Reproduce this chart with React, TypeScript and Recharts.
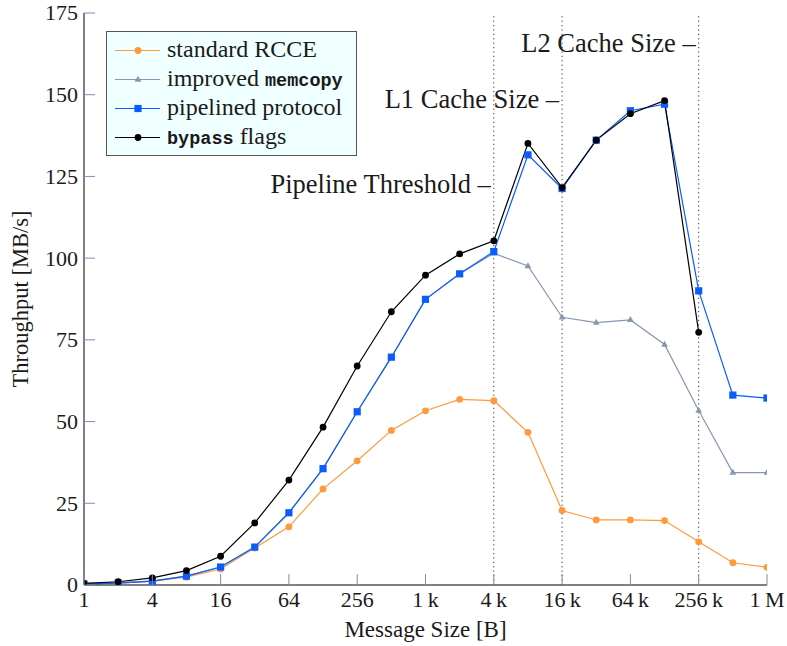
import React from 'react';
import { LineChart, Line, XAxis, YAxis, ReferenceLine, ReferenceDot, Legend } from 'recharts';

// message sizes in bytes (x axis, log2 spaced)
const messageSizes = [
  1, 2, 4, 8, 16, 32, 64, 128, 256, 512, 1024, 2048, 4096, 8192, 16384, 32768, 65536, 131072,
  262144, 524288, 1048576,
];

// throughput in MB/s
const standardRcce = [
  0.5, 0.7, 1.2, 2.4, 4.9, 11.3, 17.8, 29.4, 38.0, 47.3, 53.3, 56.8, 56.4, 46.7, 22.8, 19.9, 19.9,
  19.7, 13.2, 6.8, 5.4,
];
const improvedMemcopy = [
  0.3, 0.6, 1.2, 2.7, 5.5, 11.6, 22.1, 35.6, 53.0, 69.7, 87.4, 95.2, 101.5, 97.6, 81.9, 80.3, 81.1,
  73.6, 53.4, 34.4, 34.4,
];
const pipelinedProtocol = [
  0.3, 0.6, 1.2, 2.7, 5.5, 11.6, 22.1, 35.6, 53.0, 69.7, 87.4, 95.2, 102.0, 131.6, 121.3, 136.1,
  145.1, 147.1, 90.0, 58.1, 57.2,
];
const bypassFlags = [
  0.5, 1.0, 2.2, 4.4, 8.8, 19.0, 32.1, 48.3, 67.0, 83.6, 94.8, 101.3, 105.3, 135.1, 121.6, 136.1,
  144.2, 148.2, 77.3, null, null,
];

const xTicks = [1, 4, 16, 64, 256, 1024, 4096, 16384, 65536, 262144, 1048576];
const xTickLabels = ['1', '4', '16', '64', '256', '1\u2009k', '4\u2009k', '16\u2009k', '64\u2009k', '256\u2009k', '1\u2009M'];
const yTicks = [0, 25, 50, 75, 100, 125, 150, 175];

// vertical markers and their labels
const markerSizes = [4096, 16384, 262144];
const markerLabels = ['Pipeline Threshold \u2013', 'L1 Cache Size \u2013', 'L2 Cache Size \u2013'];
const markerLabelY = [122.8, 148.7, 165.9];

const data = messageSizes.map((size, i) => ({
  size,
  rcce: standardRcce[i],
  memcopy: improvedMemcopy[i],
  pipelined: pipelinedProtocol[i],
  bypass: bypassFlags[i],
}));

const SERIF = '"Liberation Serif", "Times New Roman", serif';
const MONO = '"Liberation Mono", "DejaVu Sans Mono", monospace';
const TICK_COLOR = '#7b8fb5';
const TEXT_COLOR = '#1a1a1a';

const ORANGE = '#ff9a3c';
const GRAY = '#8797b0';
const BLUE = '#0a5cff';
const BLACK = '#000000';

const CircleDot = (props: any) => {
  const { cx, cy, fill, value } = props;
  if (value === null || value === undefined || isNaN(cy)) return null;
  return <circle cx={cx} cy={cy} r={3.4} fill={fill} />;
};

const SquareDot = (props: any) => {
  const { cx, cy, fill, value } = props;
  if (value === null || value === undefined || isNaN(cy)) return null;
  return <rect x={cx - 3.6} y={cy - 3.6} width={7.2} height={7.2} fill={fill} />;
};

const TriangleDot = (props: any) => {
  const { cx, cy, fill, value } = props;
  if (value === null || value === undefined || isNaN(cy)) return null;
  return <polygon points={`${cx},${cy - 3.8} ${cx + 3.4},${cy + 2.2} ${cx - 3.4},${cy + 2.2}`} fill={fill} />;
};

const BottomTick = (props: any) => {
  const { x, y, payload } = props;
  const idx = xTicks.indexOf(payload.value);
  return (
    <g>
      <line x1={x} y1={y} x2={x} y2={y - 11} stroke={TICK_COLOR} strokeWidth={1} />
      <text x={x} y={y + 22} textAnchor="middle" fontFamily={SERIF} fontSize={22} fill={TEXT_COLOR}>
        {xTickLabels[idx]}
      </text>
    </g>
  );
};

const TopTick = (props: any) => {
  const { x, y } = props;
  return <line x1={x} y1={y} x2={x} y2={y + 11} stroke={TICK_COLOR} strokeWidth={1} />;
};

const LeftTick = (props: any) => {
  const { x, y, payload } = props;
  return (
    <g>
      <line x1={x} y1={y} x2={x + 11} y2={y} stroke={TICK_COLOR} strokeWidth={1} />
      <text x={x - 6} y={y} dy="0.34em" textAnchor="end" fontFamily={SERIF} fontSize={22} fill={TEXT_COLOR}>
        {payload.value}
      </text>
    </g>
  );
};

const RightTick = (props: any) => {
  const { x, y } = props;
  return <line x1={x} y1={y} x2={x - 11} y2={y} stroke={TICK_COLOR} strokeWidth={1} />;
};

const XTitle = (props: any) => {
  const { viewBox } = props;
  if (!viewBox) return null;
  return (
    <text
      x={viewBox.x + viewBox.width / 2}
      y={viewBox.y + 52}
      textAnchor="middle"
      fontFamily={SERIF}
      fontSize={23}
      fill={TEXT_COLOR}
    >
      Message Size [B]
    </text>
  );
};

const YTitle = (props: any) => {
  const { viewBox } = props;
  if (!viewBox) return null;
  const x = viewBox.x + 28;
  const y = viewBox.y + viewBox.height / 2;
  return (
    <text
      x={x}
      y={y}
      transform={`rotate(-90, ${x}, ${y})`}
      textAnchor="middle"
      fontFamily={SERIF}
      fontSize={22.5}
      fill={TEXT_COLOR}
    >
      Throughput [MB/s]
    </text>
  );
};

const legendItems = [
  { color: ORANGE, shape: 'circle', parts: [{ text: 'standard RCCE', mono: false }] },
  { color: GRAY, shape: 'triangle', parts: [{ text: 'improved ', mono: false }, { text: 'memcopy', mono: true }] },
  { color: BLUE, shape: 'square', parts: [{ text: 'pipelined protocol', mono: false }] },
  { color: BLACK, shape: 'circle', parts: [{ text: 'bypass', mono: true }, { text: ' flags', mono: false }] },
];

const LegendBox = () => (
  <div
    style={{
      width: 249,
      height: 123,
      border: '1px solid #555',
      background: '#f0ffff',
      boxSizing: 'content-box',
      position: 'relative',
    }}
  >
    {legendItems.map((item, i) => (
      <div
        key={i}
        style={{ position: 'absolute', left: 0, top: 4 + i * 29, height: 29, display: 'flex', alignItems: 'center' }}
      >
        <svg width={60} height={29} style={{ display: 'block' }}>
          <line x1={8} y1={14.5} x2={53} y2={14.5} stroke={item.color} strokeWidth={1.2} />
          {item.shape === 'circle' && <circle cx={31} cy={14.5} r={3.4} fill={item.color} />}
          {item.shape === 'square' && <rect x={27.4} y={10.9} width={7.2} height={7.2} fill={item.color} />}
          {item.shape === 'triangle' && (
            <polygon points="31,10.7 34.4,16.7 27.6,16.7" fill={item.color} />
          )}
        </svg>
        <span style={{ whiteSpace: 'pre', color: TEXT_COLOR, lineHeight: '29px' }}>
          {item.parts.map((p, j) => (
            <span
              key={j}
              style={{
                fontFamily: p.mono ? MONO : SERIF,
                fontSize: p.mono ? 18.5 : 24,
                fontWeight: p.mono ? 600 : 400,
              }}
            >
              {p.text}
            </span>
          ))}
        </span>
      </div>
    ))}
  </div>
);

export default function App() {
  return (
    <div style={{ position: 'absolute', left: 0, top: 0, width: 787, height: 646, background: '#fff' }}>
      <LineChart width={787} height={646} data={data} margin={{ top: 13, right: 20, bottom: 0, left: 0 }}>
        <XAxis
          dataKey="size"
          type="number"
          scale="log"
          domain={[1, 1048576]}
          ticks={xTicks}
          interval={0}
          height={61}
          tickSize={0}
          tickMargin={0}
          tickLine={false}
          axisLine={{ stroke: '#000', strokeWidth: 1 }}
          tick={<BottomTick />}
          label={<XTitle />}
          allowDataOverflow
        />
        <XAxis
          xAxisId="top"
          orientation="top"
          dataKey="size"
          type="number"
          scale="log"
          domain={[1, 1048576]}
          ticks={xTicks}
          interval={0}
          height={0}
          tickSize={0}
          tickMargin={0}
          tickLine={false}
          axisLine={{ stroke: '#000', strokeWidth: 1 }}
          tick={<TopTick />}
          allowDataOverflow
        />
        <YAxis
          type="number"
          domain={[0, 175]}
          ticks={yTicks}
          interval={0}
          width={84}
          tickSize={0}
          tickMargin={0}
          tickLine={false}
          axisLine={{ stroke: '#000', strokeWidth: 1 }}
          tick={<LeftTick />}
          label={<YTitle />}
          allowDataOverflow
        />
        <YAxis
          yAxisId="right"
          orientation="right"
          type="number"
          domain={[0, 175]}
          ticks={yTicks}
          interval={0}
          width={0}
          tickSize={0}
          tickMargin={0}
          tickLine={false}
          axisLine={{ stroke: '#000', strokeWidth: 1 }}
          tick={<RightTick />}
          allowDataOverflow
        />

        {markerSizes.map((s) => (
          <ReferenceLine key={s} x={s} stroke="#333" strokeWidth={1} strokeDasharray="1.2 3.2" />
        ))}
        {markerSizes.map((s, i) => (
          <ReferenceDot
            key={`lbl-${s}`}
            x={s}
            y={markerLabelY[i]}
            r={0}
            fill="none"
            stroke="none"
            label={{
              value: markerLabels[i],
              position: 'left',
              offset: 3,
              fontFamily: SERIF,
              fontSize: 26.5,
              fill: TEXT_COLOR,
            }}
          />
        ))}

        <Legend
          layout="vertical"
          align="center"
          verticalAlign="middle"
          content={() => <LegendBox />}
          wrapperStyle={{ left: 106, top: 31, width: 'auto', height: 'auto' }}
        />

        <Line
          dataKey="rcce"
          name="standard RCCE"
          stroke={ORANGE}
          strokeWidth={1.2}
          dot={<CircleDot fill={ORANGE} />}
          activeDot={false}
          isAnimationActive={false}
        />
        <Line
          dataKey="memcopy"
          name="improved memcopy"
          stroke={GRAY}
          strokeWidth={1.2}
          dot={<TriangleDot fill={GRAY} />}
          activeDot={false}
          isAnimationActive={false}
        />
        <Line
          dataKey="pipelined"
          name="pipelined protocol"
          stroke={BLUE}
          strokeWidth={1.2}
          dot={<SquareDot fill={BLUE} />}
          activeDot={false}
          isAnimationActive={false}
        />
        <Line
          dataKey="bypass"
          name="bypass flags"
          stroke={BLACK}
          strokeWidth={1.2}
          dot={<CircleDot fill={BLACK} />}
          activeDot={false}
          connectNulls={false}
          isAnimationActive={false}
        />
      </LineChart>
    </div>
  );
}
